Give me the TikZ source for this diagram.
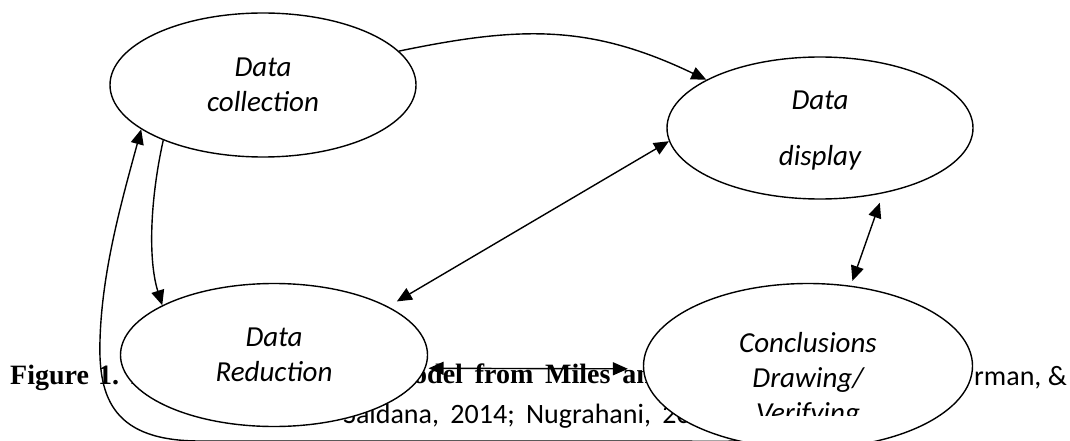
\documentclass[tikz,border=0pt]{standalone}
\usepackage{fontspec}
\setmainfont{Carlito}
\newfontfamily\serifcap{Liberation Serif}
\newfontfamily\serifwide[WordSpace=1.3]{Liberation Serif}
\newfontfamily\sanswide[WordSpace=1.8]{Carlito}
\usetikzlibrary{arrows.meta}
\usetikzlibrary{shapes.geometric}
\tikzset{>={Triangle[length=15pt,width=13pt]}}
\tikzset{
    stage/.style = {draw, ellipse, fill=white, line width=1.4pt, inner sep=0pt},
    stagetext/.style = {align=center, inner sep=0pt, text depth=0pt, font=\fontsize{29}{35}\selectfont\itshape},
    flow/.style = {->, line width=1.4pt},
    both/.style = {<->, line width=1.4pt},
}
\tikzset{
    capbold/.style = {anchor=base west, inner sep=0pt, font=\fontsize{28}{34}\selectfont\serifcap\bfseries},
    capboldwide/.style = {capbold, font=\fontsize{28}{34}\selectfont\serifwide\bfseries},
    capsans/.style = {anchor=base west, inner sep=0pt, font=\fontsize{28}{34}\selectfont},
    capsanswide/.style = {capsans, font=\fontsize{28}{34}\selectfont\sanswide},
}

\begin{document}
\begin{tikzpicture}[x=1pt,y=-1pt]
    \useasboundingbox (0,0) rectangle (1070,441);
    \clip (0,0) rectangle (1070,441);
    % caption, partly hidden by the stages
    \node[capbold] (fig) at (10,384) {Figure 1. I};
    \node[capboldwide] (model) at (413,383) {odel from Miles an};
    \node[capsans] (names) at (974,385) {rman, \&};
    \node[capsanswide] (refs) at (343,423) {Saldana, 2014; Nugrahani, 20};
    % stages
    \node[stage, stagetext, minimum width=306pt, minimum height=144pt] (coll) at (263,85) {Data\\collection};
    \node[stage, stagetext, minimum width=306pt, minimum height=142pt] (disp) at (820,128) {Data\\[21pt]display};
    \node[stage, stagetext, minimum width=307pt, minimum height=143pt] (redu) at (274,355) {Data\\Reduction};
    \node[stage, minimum width=329pt, minimum height=165pt] (concl) at (808,366) {};
    \begin{scope}
        \clip (600,280) rectangle (1020,415);
        \node[stagetext] (concltext) at (808,377) {Conclusions\\Drawing/\\Verifying};
    \end{scope}
    % links
    \draw[flow] (coll.14.5) .. controls (520,26) and (590,24) .. (disp.157);
    \draw[flow] (coll.209) .. controls (150,200) and (148,260) .. (redu.156);
    \draw[both, shorten >=10pt] (disp.185) -- (redu.23);
    \draw[both, shorten <=10pt, shorten >=5pt] (disp.-46) -- (concl.62);
    \draw[both, shorten <=3pt, shorten >=15pt] (redu.-5.3) -- (concl.181);
    \draw[flow] (concl.226) .. controls (720,442) and (700,441) .. (660,441) -- (200,441)
        .. controls (115,441) and (98,400) .. (100,340)
        .. controls (102,270) and (122,200) .. (coll.200);
\end{tikzpicture}
\end{document}
